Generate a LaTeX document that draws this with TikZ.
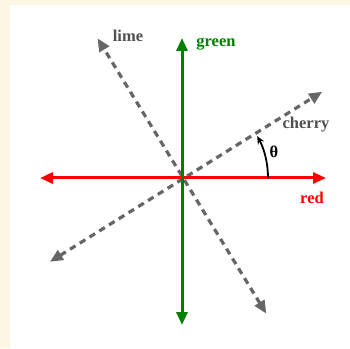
\documentclass[tikz,border=0pt]{standalone}
\usepackage{fontspec}
\setmainfont{Liberation Serif}
\usetikzlibrary{arrows.meta,calc}
\definecolor{cream}{HTML}{FDF6E3}
\definecolor{dgray}{HTML}{666666}
\definecolor{tgray}{HTML}{505050}
\definecolor{lgreen}{HTML}{008000}
\tikzset{
  axis/.style={line width=3pt,{Triangle[length=13pt,width=11pt]}-{Triangle[length=13pt,width=11pt]}},
  dashax/.style={line width=3.2pt,dgray,dash pattern=on 6.5pt off 5pt,{Triangle[length=13pt,width=11pt]}-{Triangle[length=13pt,width=11pt]}},
  lbl/.style={font=\fontsize{16.5}{18}\selectfont\bfseries,inner sep=0pt}
}
\begin{document}
\begin{tikzpicture}[x=1pt,y=1pt]
\useasboundingbox (0,0) rectangle (350,348);
\fill[cream] (0,0) rectangle (350,348);
\fill[white] (10,0) rectangle (350,343);
\coordinate (O) at (181.5,170);
\coordinate (rl) at (40,170);
\coordinate (rr) at (326,170);
\coordinate (gt) at (182,310);
\coordinate (gb) at (182,23);
\coordinate (lt) at ($(O)+(121:163)$);
\coordinate (lb) at ($(O)+(302:160)$);
\coordinate (ct) at ($(O)+(31.5:165)$);
\coordinate (cb) at ($(O)+(212.5:156)$);
\draw[dashax] (lb) -- (lt);
\draw[dashax] (cb) -- (ct);
\draw[axis,red] (rl) -- (rr);
\draw[axis,lgreen] (gb) -- (gt);
\draw[line width=1.8pt,-{Stealth[length=8pt,width=7pt]}] ($(O)+(0:86.5)$) arc (0:29:86.5);
\node[lbl,text=tgray] (lime) at (128,312) {lime};
\node[lbl,text=lgreen] (green) at (216,304) {green};
\node[lbl,text=tgray] (cherry) at (306,223) {cherry};
\node[lbl,text=red] (redl) at (312,150) {red};
\node[lbl] (theta) at (274,196) {θ};
\end{tikzpicture}
\end{document}
